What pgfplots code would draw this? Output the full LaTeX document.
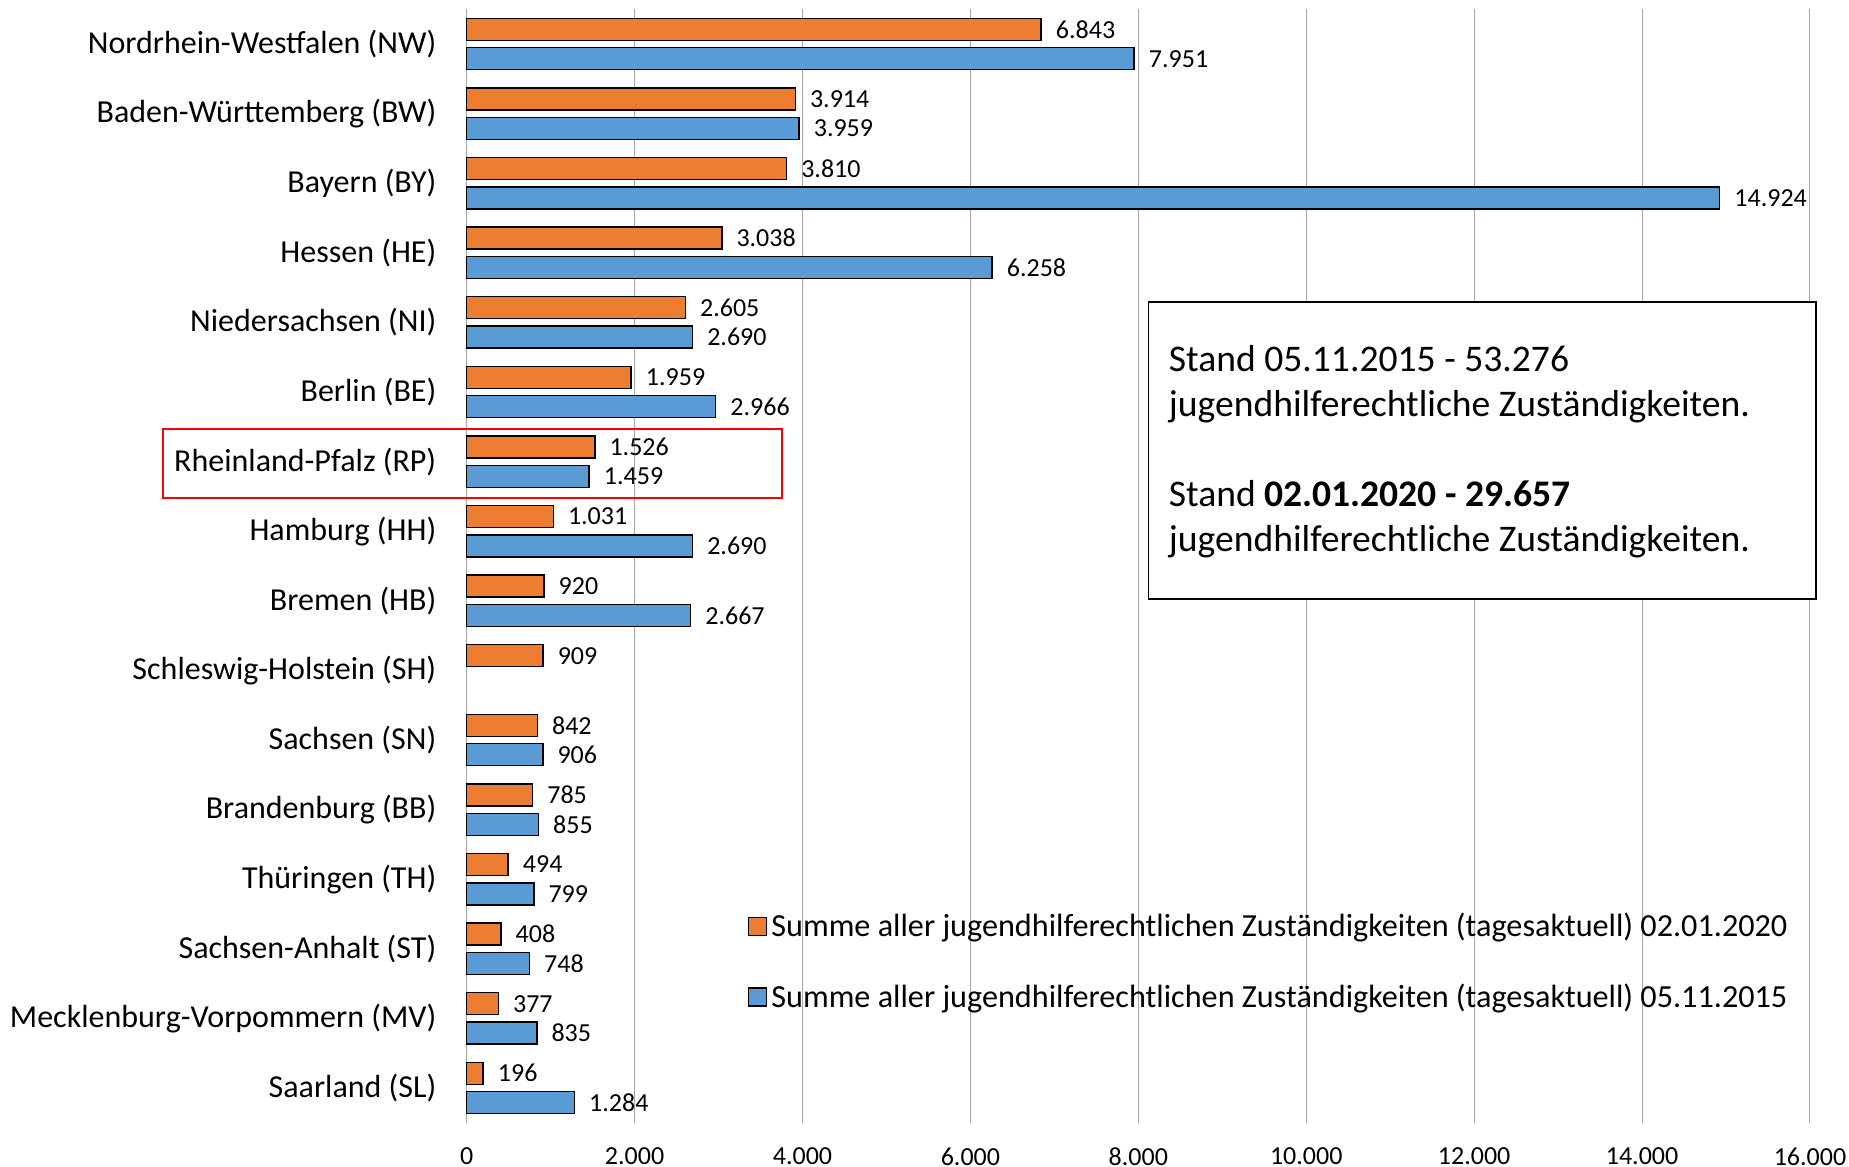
\documentclass[border=0pt]{standalone}
\usepackage{fontspec}
\setmainfont{Carlito}
\usepackage{pgfplots}
\pgfplotsset{compat=1.18}
\definecolor{orng}{HTML}{ED7D31}
\definecolor{blu}{HTML}{5B9BD5}
\begin{document}
\begin{tikzpicture}
\useasboundingbox (-233.35pt,-22.1pt) rectangle (691.15pt,561.4pt);
\begin{axis}[
  at={(0pt,0pt)}, anchor=south west,
  scale only axis, width=671.65pt, height=556.8pt,
  xbar, bar width=11pt,
  xmin=0, xmax=16000, ymin=-0.5, ymax=15.5,
  clip=false,
  xtick={0,2000,...,16000},
  scaled x ticks=false,
  xmajorgrids, grid style={gray!70, line width=0.5pt},
  axis line style={draw=none}, tick style={draw=none}, major tick length=0pt,
  ytick={0,...,15},
  yticklabels={Saarland (SL), Mecklenburg-Vorpommern (MV), Sachsen-Anhalt (ST), Thüringen (TH), Brandenburg (BB), Sachsen (SN), Schleswig-Holstein (SH), Bremen (HB), Hamburg (HH), Rheinland-Pfalz (RP), Berlin (BE), Niedersachsen (NI), Hessen (HE), Bayern (BY), Baden-Württemberg (BW), Nordrhein-Westfalen (NW)},
  yticklabel style={font=\fontsize{16}{19}\selectfont, inner sep=0pt, anchor=east, xshift=-15pt},
  xticklabel style={font=\fontsize{13}{15}\selectfont, inner sep=0pt, anchor=north, yshift=-12.3pt, /pgf/number format/fixed},
  /pgf/number format/1000 sep={.},
  /pgf/number format/assume math mode=true,
  nodes near coords,
  every node near coord/.append style={font=\fontsize{13}{15}\selectfont, inner sep=0pt, xshift=7pt, text=black},
  legend style={at={(0.209,0.1447)}, anchor=west, draw=none, fill=none,
    font=\fontsize{16.1}{19}\selectfont, row sep=18pt, inner sep=0pt},
  legend cell align=left,
  legend image code/.code={\draw[#1,draw=black,line width=0.75pt] (0pt,-4.5pt) rectangle (9pt,4.5pt);},
]
\addplot[fill=orng, draw=black, line width=0.75pt, bar shift=7.35pt]
  coordinates {(196,0)(377,1)(408,2)(494,3)(785,4)(842,5)(909,6)(920,7)(1031,8)(1526,9)(1959,10)(2605,11)(3038,12)(3810,13)(3914,14)(6843,15)};
\addlegendentry{Summe aller jugendhilferechtlichen Zuständigkeiten (tagesaktuell) 02.01.2020}
\addplot[fill=blu, draw=black, line width=0.75pt, bar shift=-7.35pt]
  coordinates {(1284,0)(835,1)(748,2)(799,3)(855,4)(906,5)(2667,7)(2690,8)(1459,9)(2966,10)(2690,11)(6258,12)(14924,13)(3959,14)(7951,15)};
\addlegendentry{Summe aller jugendhilferechtlichen Zuständigkeiten (tagesaktuell) 05.11.2015}
\draw[red, line width=1pt] (axis cs:-3621,8.483) rectangle (axis cs:3753,9.466);
\draw[black, line width=0.75pt, fill=white] (axis cs:8121,7.026) rectangle (axis cs:16071,11.293);
\node[anchor=base west, inner sep=0pt, font=\fontsize{18.8}{22.5}\selectfont] at (axis cs:8360,10.292) {Stand 05.11.2015 - 53.276};
\node[anchor=base west, inner sep=0pt, font=\fontsize{18.8}{22.5}\selectfont] at (axis cs:8360,9.646) {jugendhilferechtliche Zuständigkeiten.};
\node[anchor=base west, inner sep=0pt, font=\fontsize{18.8}{22.5}\selectfont] at (axis cs:8360,8.353) {Stand \textbf{02.01.2020 - 29.657}};
\node[anchor=base west, inner sep=0pt, font=\fontsize{18.8}{22.5}\selectfont] at (axis cs:8360,7.707) {jugendhilferechtliche Zuständigkeiten.};
\end{axis}
\end{tikzpicture}
\end{document}
